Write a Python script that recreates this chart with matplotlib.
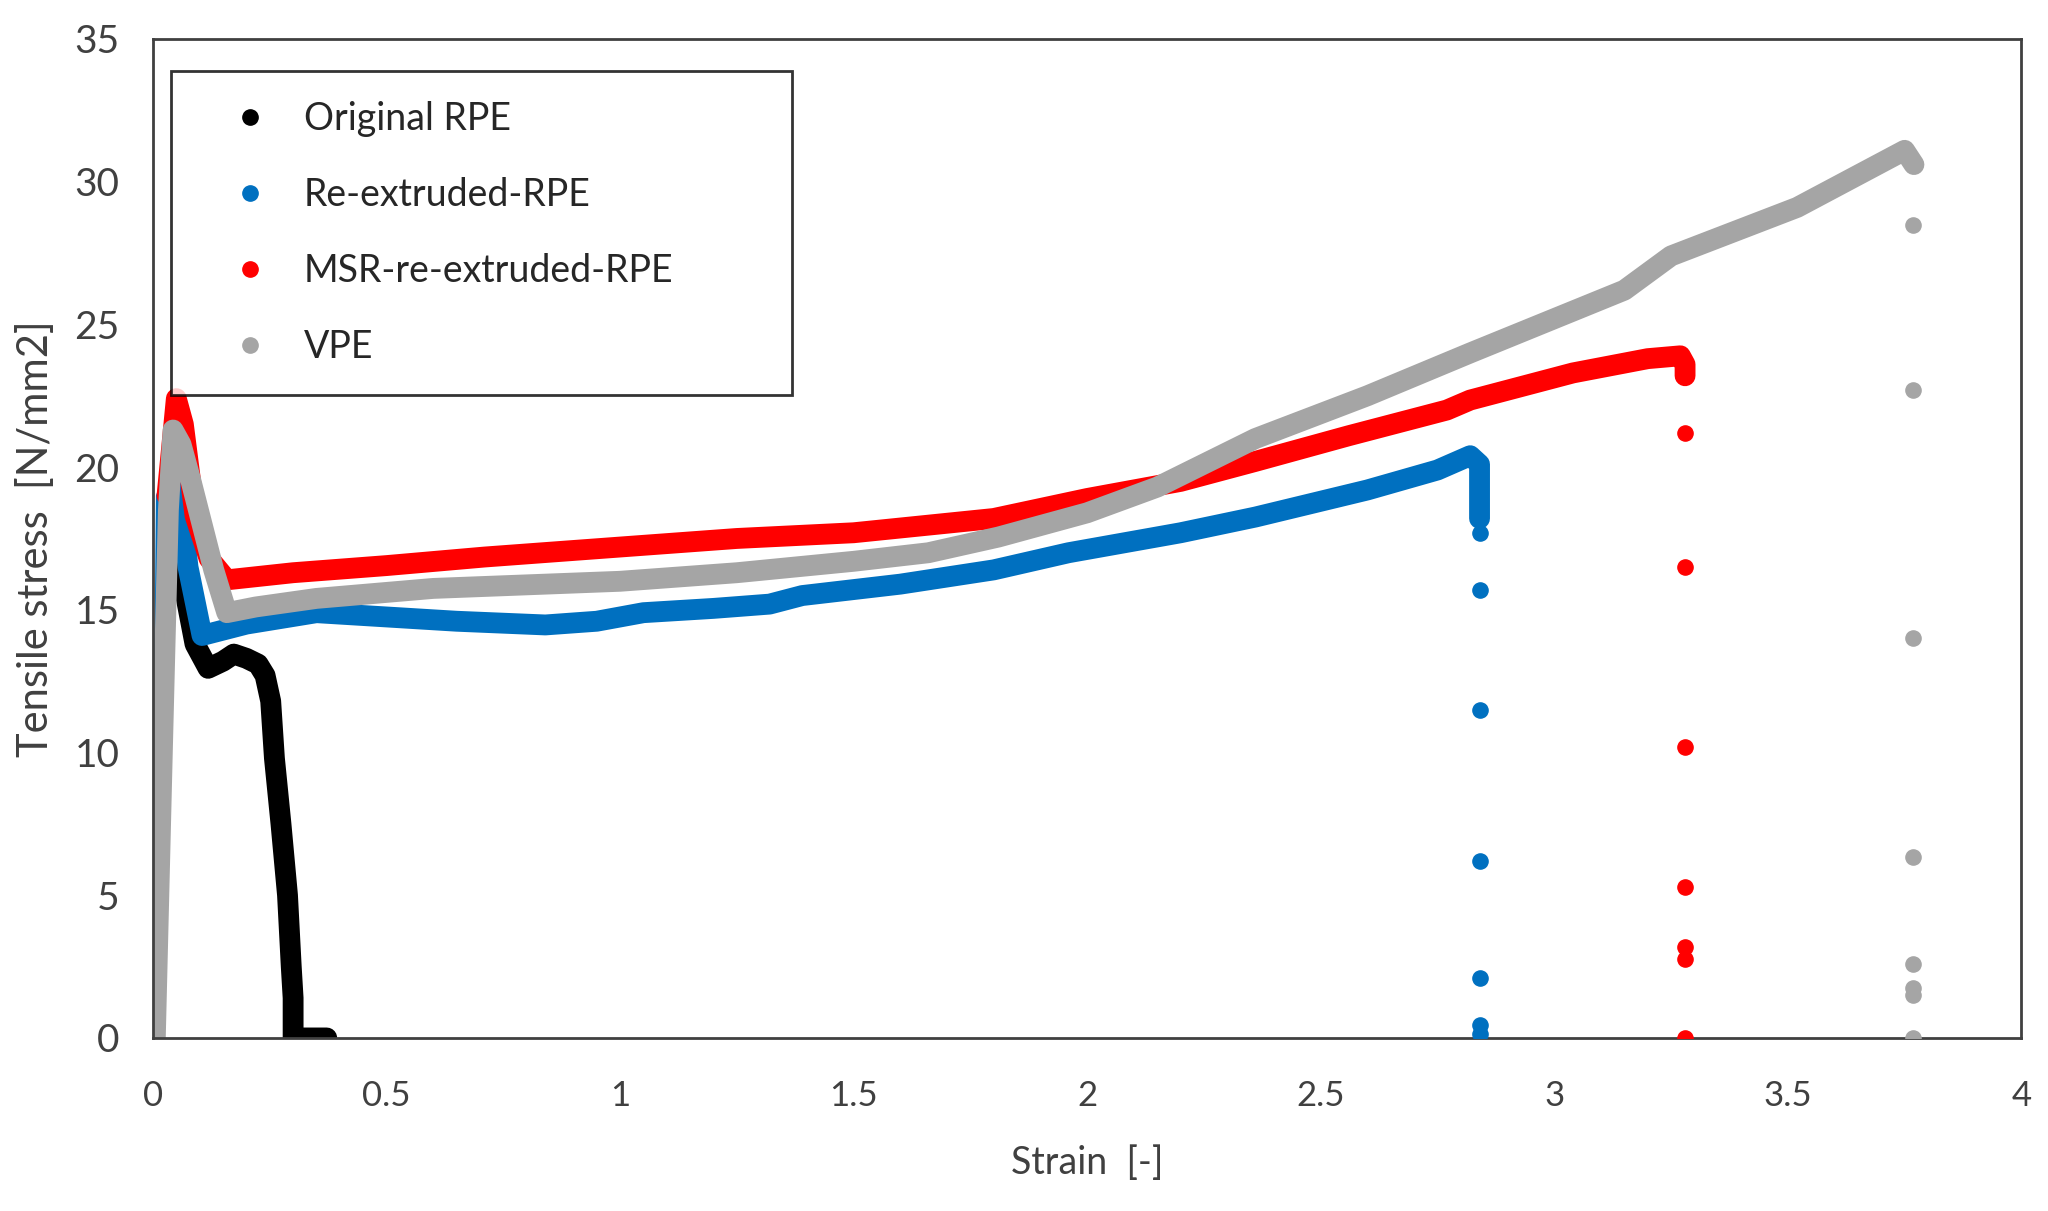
import matplotlib
matplotlib.use("Agg")
import matplotlib.pyplot as plt
from matplotlib.lines import Line2D

plt.rcParams['font.family'] = ['Lato', 'DejaVu Sans']

# ---- data (strain [-], stress [N/mm2]) ----
# Original RPE
orig_x = [0.050, 0.070, 0.090, 0.118, 0.150, 0.173, 0.200, 0.225, 0.240, 0.252,
          0.260, 0.274, 0.288, 0.296, 0.300, 0.300, 0.372]
orig_y = [18.5, 15.5, 13.8, 12.95, 13.2, 13.45, 13.3, 13.1, 12.7, 11.8,
          9.8, 7.5, 5.0, 2.5, 1.4, 0.0, 0.0]

# Re-extruded-RPE
reex_rise_x = [0.0, 0.004, 0.010, 0.040]
reex_rise_y = [0.0, 8.0, 19.0, 20.3]
reex_x = [0.040, 0.055, 0.075, 0.105, 0.20, 0.35, 0.50, 0.65, 0.84, 0.95,
          1.05, 1.20, 1.32, 1.39, 1.60, 1.80, 1.96, 2.20, 2.36, 2.60, 2.75,
          2.82, 2.84, 2.84]
reex_y = [20.3, 19.4, 16.5, 14.1, 14.5, 14.9, 14.75, 14.6, 14.47, 14.6,
          14.9, 15.05, 15.2, 15.5, 15.9, 16.4, 17.0, 17.7, 18.25, 19.2, 19.9,
          20.4, 20.1, 18.2]
reex_drop_x = [2.84, 2.84, 2.84, 2.84, 2.84, 2.84, 2.84]
reex_drop_y = [17.7, 15.7, 11.5, 6.2, 2.1, 0.45, 0.15]

# MSR-re-extruded-RPE
msr_rise_x = [0.0, 0.010, 0.020, 0.030]
msr_rise_y = [0.0, 6.0, 13.0, 19.0]
msr_x = [0.030, 0.050, 0.065, 0.090, 0.120, 0.158, 0.30, 0.50, 0.71, 1.00,
         1.25, 1.50, 1.80, 2.00, 2.20, 2.36, 2.56, 2.77, 2.82, 3.04, 3.20,
         3.27, 3.28, 3.28]
msr_y = [19.0, 22.4, 21.5, 18.3, 16.8, 16.05, 16.3, 16.55, 16.85, 17.2,
         17.5, 17.7, 18.2, 18.9, 19.5, 20.2, 21.1, 22.0, 22.35, 23.3, 23.8,
         23.9, 23.6, 23.2]
msr_drop_x = [3.28, 3.28, 3.28, 3.28, 3.28, 3.28, 3.28]
msr_drop_y = [21.2, 16.5, 10.2, 5.3, 3.2, 2.75, 0.0]

# VPE
vpe_x = [0.005, 0.020, 0.033, 0.043, 0.060, 0.080, 0.105, 0.130, 0.158, 0.22,
         0.35, 0.60, 1.00, 1.25, 1.50, 1.66, 1.81, 2.00, 2.15, 2.36, 2.60,
         2.82, 3.00, 3.15, 3.25, 3.52, 3.75, 3.77]
vpe_y = [0.0, 10.0, 18.5, 21.3, 20.8, 19.6, 18.0, 16.4, 14.9, 15.1,
         15.4, 15.75, 16.0, 16.3, 16.7, 17.0, 17.55, 18.4, 19.3, 21.0, 22.5,
         24.0, 25.2, 26.2, 27.4, 29.1, 31.1, 30.6]
vpe_drop_x = [3.768, 3.768, 3.768, 3.768, 3.768, 3.768, 3.768, 3.768]
vpe_drop_y = [28.5, 22.7, 14.0, 6.35, 2.6, 1.75, 1.5, 0.0]

labels = ['Original RPE', 'Re-extruded-RPE', 'MSR-re-extruded-RPE', 'VPE']
colors = ['#000000', '#0070C0', '#FF0000', '#A5A5A5']

fig = plt.figure(figsize=(20.48, 12.11), dpi=100)
ax = fig.add_axes([0.0747, 0.1429, 0.9123, 0.8249])

lw = 15
dot = 120
line_kw = dict(lw=lw, solid_capstyle='round', solid_joinstyle='round')

# thin elastic rise (sparse points in the original)
ax.plot(reex_rise_x, reex_rise_y, color=colors[1], lw=2.5)
ax.plot(msr_rise_x, msr_rise_y, color=colors[2], lw=2.5, ls=(0, (4, 3)))

# dense parts drawn as thick lines
ax.plot(orig_x, orig_y, color=colors[0], **line_kw)
ax.plot(reex_x, reex_y, color=colors[1], **line_kw)
ax.plot(msr_x, msr_y, color=colors[2], **line_kw)
ax.plot(vpe_x, vpe_y, color=colors[3], **line_kw)

# isolated points at fracture
ax.scatter(reex_drop_x, reex_drop_y, s=dot, color=colors[1], zorder=3)
ax.scatter(msr_drop_x, msr_drop_y, s=dot, color=colors[2], zorder=3)
ax.scatter(vpe_drop_x, vpe_drop_y, s=dot, color=colors[3], zorder=3)

ax.set_xlim(0, 4)
ax.set_ylim(0, 35)
ax.set_xticks([0, 0.5, 1, 1.5, 2, 2.5, 3, 3.5, 4])
ax.set_xticklabels(['0', '0.5', '1', '1.5', '2', '2.5', '3', '3.5', '4'])
ax.set_yticks(range(0, 36, 5))
ax.tick_params(axis='both', length=0, colors='#404040')
ax.tick_params(axis='x', pad=30, labelsize=25)
ax.tick_params(axis='y', pad=24, labelsize=28)
for s in ax.spines.values():
    s.set_color('#404040')
    s.set_linewidth(2)

ax.set_xlabel('Strain  [-]', fontsize=27, color='#404040', labelpad=24)
ax.set_ylabel('Tensile stress  [N/mm2]', fontsize=30, color='#404040', labelpad=14)

handles = [Line2D([], [], ls='none', marker='o', markersize=11, color=c) for c in colors]
leg = ax.legend(handles, labels, loc='upper left', bbox_to_anchor=(0.0096, 0.968, 0.3324, 0.0),
                mode='expand', fontsize=27, frameon=True, fancybox=False, borderpad=0.8,
                labelspacing=1.07, handlelength=2.6, handletextpad=0.15, borderaxespad=0)
leg.get_frame().set_edgecolor('#000000')
leg.get_frame().set_linewidth(2)
for t in leg.get_texts():
    t.set_color('#262626')

fig.savefig('out.png', dpi=100, facecolor='white')
